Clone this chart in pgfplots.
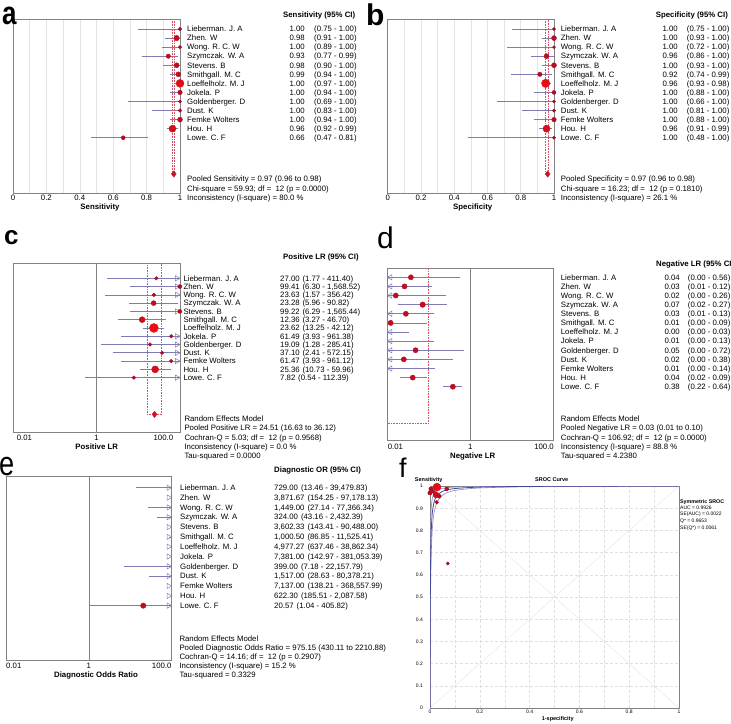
\documentclass[border=0pt]{standalone}
\usepackage{graphicx}
\usepackage{pgfplots}
\pgfplotsset{compat=1.18}
\usepackage{pgfplotstable}
\usepackage{fontspec}
\setmainfont{Liberation Sans}
\definecolor{ciline}{RGB}{125,125,180}
\definecolor{dotred}{RGB}{200,20,40}
\definecolor{pool}{RGB}{215,80,100}
\definecolor{frame}{RGB}{130,130,130}
\definecolor{sroc}{RGB}{70,70,150}
\definecolor{srocci}{RGB}{140,140,195}
\tikzset{
 t/.style={anchor=west,inner sep=0pt,text height=5.6pt,text depth=0pt,font=\fontsize{7.8}{9}\selectfont},
 ts/.style={anchor=west,inner sep=0pt,text height=3.6pt,text depth=0pt,font=\fontsize{5}{6}\selectfont},
}
\newcommand{\TL}[3]{\node[t] at (#1pt,-#2pt) {#3};}
\newcommand{\TR}[3]{\node[t,anchor=east] at (#1pt,-#2pt) {#3};}
\newcommand{\TC}[3]{\node[t,anchor=center] at (#1pt,-#2pt) {#3};}
\newcommand{\TB}[3]{\node[t,font=\fontsize{7.8}{9}\selectfont\bfseries] at (#1pt,-#2pt) {#3};}
\newcommand{\TBC}[3]{\node[t,anchor=center,font=\fontsize{7.8}{9}\selectfont\bfseries] at (#1pt,-#2pt) {#3};}
\pgfplotsset{
 forest/.style={scale only axis, anchor=north west, y dir=reverse, clip=true,
   axis line style={draw=frame, line width=0.6pt}, ytick=\empty, xticklabels={}, major tick length=0pt},
 ci/.style={draw=ciline, line width=0.7pt, mark=none, unbounded coords=jump, forget plot},
 poolr/.style={draw=pool, densely dotted, line width=0.6pt, mark=none, forget plot},
 vline/.style={draw=frame, line width=0.6pt, mark=none, forget plot},
 pts/.style={scatter, only marks, mark=*, point meta=\thisrow{r}, point meta min=1.5, point meta max=4.5,
   colormap={reds}{rgb255=(165,10,40) rgb255=(235,15,20)},
   scatter/use mapped color={draw=mapped color, fill=mapped color},
   visualization depends on={\thisrow{r}\as\rr},
   scatter/@pre marker code/.append style={/tikz/mark size=\rr}},
 arrR/.style={only marks, mark=triangle, mark size=3, mark options={xshift=-3pt, rotate=-90, draw=ciline, fill=white, line width=0.5pt}},
 arrL/.style={only marks, mark=triangle, mark size=3, mark options={xshift=3pt, rotate=90, draw=ciline, fill=white, line width=0.5pt}},
 dia/.style={only marks, mark=diamond*, mark size=3.2, color=dotred},
}
% ---------------- data ----------------
\pgfplotstableread{
row est r
1 1.00 1.8
2 0.98 2.7
3 1.00 1.8
4 0.93 2.2
5 0.98 2.5
6 0.99 2.5
7 1.00 4.0
8 1.00 2.3
9 1.00 1.6
10 1.00 1.8
11 1.00 2.5
12 0.955 3.5
13 0.66 2.0
}\sensA
\pgfplotstableread{
row est r
1 1.00 1.7
2 1.00 2.5
3 1.00 1.5
4 0.955 2.5
5 1.00 2.5
6 0.915 2.2
7 0.95 4.2
8 1.00 2.0
9 1.00 1.6
10 1.00 1.7
11 1.00 2.3
12 0.955 3.6
13 1.00 1.6
}\specB
\pgfplotstableread{
row est r
1 27.00 1.8
2 99.41 2.0
3 23.63 1.8
4 23.28 2.5
5 99.22 2.0
6 12.36 3.0
7 23.62 4.5
8 61.49 1.8
9 19.09 1.8
10 37.10 1.8
11 61.47 1.8
12 25.36 3.5
13 7.82 1.8
}\plrC
\pgfplotstableread{
row est r
1 0.037 2.6
2 0.026 2.6
3 0.016 2.6
4 0.071 2.8
5 0.028 2.6
6 0.012 2.6
9 0.048 2.6
10 0.025 2.6
12 0.041 2.6
13 0.38 2.6
}\nlrD
\pgfplotstableread{
row est r
13 20.57 2.7
}\dorE
\pgfplotstableread{
x y r
0.028 0.995 4.0
0.004 0.987 2.2
0.000 0.969 2.2
0.013 0.975 1.8
0.024 0.960 3.0
0.037 0.954 2.0
0.067 0.987 2.0
0.027 0.927 1.9
0.071 0.651 1.6
}\srocP
\begin{document}
\begin{tikzpicture}
\useasboundingbox (0,0) rectangle (731pt,-723pt);

% ================= panel a =================
\begin{axis}[forest, at={(13pt,-19pt)}, width=167pt, height=174pt,
  xmin=0, xmax=1, ymin=-0.104, ymax=19.10,
  xtick={0.1,0.2,0.3,0.4,0.5,0.6,0.7,0.8,0.9}, xmajorgrids, major grid style={gray!22, line width=0.5pt}]
\addplot[ci] coordinates {(0.75,1)(1,1) (nan,nan) (0.91,2)(1,2) (nan,nan) (0.89,3)(1,3) (nan,nan) (0.77,4)(0.99,4) (nan,nan)
 (0.90,5)(1,5) (nan,nan) (0.94,6)(1,6) (nan,nan) (0.97,7)(1,7) (nan,nan) (0.94,8)(1,8) (nan,nan) (0.69,9)(1,9) (nan,nan)
 (0.83,10)(1,10) (nan,nan) (0.94,11)(1,11) (nan,nan) (0.92,12)(0.99,12) (nan,nan) (0.47,13)(0.81,13)};
\addplot[poolr] coordinates {(0.952,-0.104)(0.952,17)(0.968,17)(0.968,-0.104)};
\addplot[pts] table[x=est,y=row]{\sensA};
\addplot[dia] coordinates {(0.963,17)};
\end{axis}

% ================= panel b =================
\begin{axis}[forest, at={(387.7pt,-19pt)}, width=166.3pt, height=174pt,
  xmin=0, xmax=1, ymin=-0.104, ymax=19.10,
  xtick={0.1,0.2,0.3,0.4,0.5,0.6,0.7,0.8,0.9}, xmajorgrids, major grid style={gray!22, line width=0.5pt}]
\addplot[ci] coordinates {(0.75,1)(1,1) (nan,nan) (0.93,2)(1,2) (nan,nan) (0.72,3)(1,3) (nan,nan) (0.86,4)(1,4) (nan,nan)
 (0.93,5)(1,5) (nan,nan) (0.74,6)(0.99,6) (nan,nan) (0.93,7)(0.98,7) (nan,nan) (0.88,8)(1,8) (nan,nan) (0.66,9)(1,9) (nan,nan)
 (0.81,10)(1,10) (nan,nan) (0.88,11)(1,11) (nan,nan) (0.91,12)(0.99,12) (nan,nan) (0.48,13)(1,13)};
\addplot[poolr] coordinates {(0.948,-0.104)(0.948,17)(0.968,17)(0.968,-0.104)};
\addplot[pts] table[x=est,y=row]{\specB};
\addplot[dia] coordinates {(0.962,17)};
\end{axis}

% ================= panel c =================
\begin{axis}[forest, at={(13.3pt,-263.3pt)}, width=166.7pt, height=169.4pt,
  xmode=log, xmin=0.01, xmax=100, xtick=\empty, ymin=-0.81, ymax=19.65]
\addplot[vline] coordinates {(1,-0.81)(1,19.65)};
\addplot[ci] coordinates {(1.77,1)(411.40,1) (nan,nan) (6.30,2)(1568,2) (nan,nan) (1.57,3)(356.42,3) (nan,nan) (5.96,4)(90.82,4) (nan,nan)
 (6.29,5)(1565,5) (nan,nan) (3.27,6)(46.70,6) (nan,nan) (13.25,7)(42.12,7) (nan,nan) (3.93,8)(961.38,8) (nan,nan) (1.28,9)(285.41,9) (nan,nan)
 (2.41,10)(572.15,10) (nan,nan) (3.93,11)(961.12,11) (nan,nan) (10.73,12)(59.96,12) (nan,nan) (0.54,13)(112.39,13)};
\addplot[poolr] coordinates {(16.63,-0.81)(16.63,17.43)(36.12,17.43)(36.12,-0.81)};
\addplot[arrR] coordinates {(100,1)(100,2)(100,3)(100,5)(100,8)(100,9)(100,10)(100,11)(100,13)};
\addplot[pts] table[x=est,y=row]{\plrC};
\addplot[dia] coordinates {(24.51,17.43)};
\end{axis}

% ================= panel d =================
\begin{axis}[forest, at={(387.3pt,-268.3pt)}, width=166pt, height=172.4pt,
  xmode=log, xmin=0.01, xmax=100, xtick=\empty, ymin=0.013, ymax=18.92]
\addplot[vline] coordinates {(1,0.013)(1,18.92)};
\addplot[ci] coordinates {(0.001,1)(0.56,1) (nan,nan) (0.008,2)(0.12,2) (nan,nan) (0.001,3)(0.26,3) (nan,nan) (0.018,4)(0.27,4) (nan,nan)
 (0.008,5)(0.13,5) (nan,nan) (0.001,6)(0.09,6) (nan,nan) (0.001,7)(0.034,7) (nan,nan) (0.001,8)(0.13,8) (nan,nan) (0.001,9)(0.72,9) (nan,nan)
 (0.001,10)(0.38,10) (nan,nan) (0.001,11)(0.14,11) (nan,nan) (0.02,12)(0.09,12) (nan,nan) (0.22,13)(0.64,13)};
\addplot[poolr] coordinates {(0.0101,0.013)(0.0101,17)(0.097,17)(0.097,0.013)};
\addplot[arrL] coordinates {(0.01,1)(0.01,2)(0.01,3)(0.01,5)(0.01,6)(0.01,7)(0.01,8)(0.01,9)(0.01,10)(0.01,11)};
\addplot[pts] table[x=est,y=row]{\nlrD};
\end{axis}

% ================= panel e =================
\begin{axis}[forest, at={(6pt,-476.7pt)}, width=165.7pt, height=184pt,
  xmode=log, xmin=0.01, xmax=100, xtick=\empty, ymin=-0.119, ymax=18.60]
\addplot[vline] coordinates {(1,-0.119)(1,18.60)};
\addplot[ci] coordinates {(13.46,1)(39479.83,1) (nan,nan) (154.25,2)(97178.13,2) (nan,nan) (27.14,3)(77366.34,3) (nan,nan) (43.16,4)(2432.39,4) (nan,nan)
 (143.41,5)(90488,5) (nan,nan) (86.85,6)(11525.41,6) (nan,nan) (637.46,7)(38862.34,7) (nan,nan) (142.97,8)(381053.39,8) (nan,nan) (7.18,9)(22157.79,9) (nan,nan)
 (28.63,10)(80378.21,10) (nan,nan) (138.21,11)(368557.99,11) (nan,nan) (185.51,12)(2087.58,12) (nan,nan) (1.04,13)(405.82,13)};
\addplot[arrR] coordinates {(100,1)(100,2)(100,3)(100,4)(100,5)(100,6)(100,7)(100,8)(100,9)(100,10)(100,11)(100,12)(100,13)};
\addplot[pts] table[x=est,y=row]{\dorE};
\end{axis}

% ================= panel f =================
\begin{axis}[scale only axis, at={(430pt,-708pt)}, anchor=south west, width=249pt, height=222pt,
  xmin=0, xmax=1, ymin=0, ymax=1, clip=true,
  xtick={0,0.1,0.2,0.3,0.4,0.5,0.6,0.7,0.8,0.9,1}, ytick={0,0.1,0.2,0.3,0.4,0.5,0.6,0.7,0.8,0.9,1},
  xticklabels={}, yticklabels={}, major tick length=0pt,
  grid=major, grid style={densely dashed, gray!25, line width=0.4pt},
  axis line style={draw=frame, line width=0.6pt}]
\addplot[gray!18, line width=0.5pt, forget plot] coordinates {(0,0)(1,1)};
\addplot[gray!18, line width=0.5pt, forget plot] coordinates {(1,0)(0,1)};
\addplot[srocci, line width=0.6pt, mark=none, smooth] coordinates {(0,0)(0.0001,0.152)(0.0002,0.2638)(0.0005,0.4726)(0.001,0.6419)(0.002,0.7821)(0.003,0.8435)(0.005,0.9000)(0.0075,0.9312)(0.01,0.9476)(0.015,0.9646)(0.02,0.9734)(0.03,0.9823)(0.05,0.9895)(0.075,0.9932)(0.1,0.9950)(0.15,0.9968)(0.2,0.9978)(0.3,0.9987)(0.4,0.9992)(0.5,0.9994)(0.6,0.9996)(0.8,0.9999)(1,1)};
\addplot[srocci, line width=0.6pt, mark=none, smooth] coordinates {(0,0)(0.0001,0.0422)(0.0002,0.0811)(0.0005,0.1807)(0.001,0.3063)(0.002,0.4692)(0.003,0.5703)(0.005,0.6891)(0.0075,0.7692)(0.01,0.8167)(0.015,0.8704)(0.02,0.9000)(0.03,0.9317)(0.05,0.9587)(0.075,0.9728)(0.1,0.9800)(0.15,0.9873)(0.2,0.9910)(0.3,0.9947)(0.4,0.9966)(0.5,0.9977)(0.6,0.9985)(0.8,0.9994)(1,1)};
\addplot[sroc, line width=0.8pt, mark=none, smooth] coordinates {(0,0)(0.0001,0.0718)(0.0002,0.134)(0.0005,0.2791)(0.001,0.4366)(0.002,0.6080)(0.003,0.6996)(0.005,0.7955)(0.0075,0.8540)(0.01,0.8866)(0.015,0.9218)(0.02,0.9405)(0.03,0.9599)(0.05,0.9760)(0.075,0.9843)(0.1,0.9885)(0.15,0.9927)(0.2,0.9949)(0.3,0.9970)(0.4,0.9981)(0.5,0.9987)(0.6,0.9991)(0.8,0.9997)(1,1)};
\addplot[pts] table[x=x,y=y]{\srocP};
\end{axis}

% ================= texts =================
% panel letters
\node[anchor=base west, inner sep=0pt, font=\fontsize{26}{26}\selectfont\bfseries] at (2pt,-24pt) {\scalebox{1}[1.25]{a}};
\node[anchor=base west, inner sep=0pt, font=\fontsize{30}{30}\selectfont\bfseries] at (366pt,-25pt) {b};
\node[anchor=base west, inner sep=0pt, font=\fontsize{26}{26}\selectfont\bfseries] at (4pt,-244pt) {c};
\node[anchor=base west, inner sep=0pt, font=\fontsize{30}{30}\selectfont] at (377pt,-248pt) {d};
\node[anchor=base west, inner sep=0pt, font=\fontsize{34}{34}\selectfont] at (-1pt,-475pt) {\scalebox{0.8}[1]{e}};
\node[anchor=base west, inner sep=0pt, font=\fontsize{27}{27}\selectfont] at (399pt,-477pt) {f};

% ---- a
\TB{283}{15}{Sensitivity (95\% CI)}
\foreach \n/\v/\ci [count=\i from 0] in {Lieberman. J. A/1.00/{(0.75 - 1.00)},Zhen. W/0.98/{(0.91 - 1.00)},Wong. R. C. W/1.00/{(0.89 - 1.00)},Szymczak. W. A/0.93/{(0.77 - 0.99)},Stevens. B/0.98/{(0.90 - 1.00)},Smithgall. M. C/0.99/{(0.94 - 1.00)},Loeffelholz. M. J/1.00/{(0.97 - 1.00)},Jokela. P/1.00/{(0.94 - 1.00)},Goldenberger. D/1.00/{(0.69 - 1.00)},Dust. K/1.00/{(0.83 - 1.00)},Femke Wolters/1.00/{(0.94 - 1.00)},Hou. H/0.96/{(0.92 - 0.99)},Lowe. C. F/0.66/{(0.47 - 0.81)}}{
 \pgfmathsetmacro{\yy}{29+9.06*\i}
 \TL{187}{\yy}{\n} \TR{305}{\yy}{\v} \TL{314}{\yy}{\ci}
}
\TL{187}{179}{Pooled Sensitivity = 0.97 (0.96 to 0.98)}
\TL{187}{188.3}{Chi-square = 59.93; df = \ 12 (p = 0.0000)}
\TL{187}{197.7}{Inconsistency (I-square) = 80.0 \%}
\foreach \v [count=\k from 0] in {0,0.2,0.4,0.6,0.8,1}{\pgfmathsetmacro{\xx}{13+33.4*\k}\TC{\xx}{197.7}{\v}}
\TBC{100}{206.7}{Sensitivity}

% ---- b
\TB{655.7}{15}{Specificity (95\% CI)}
\foreach \n/\v/\ci [count=\i from 0] in {Lieberman. J. A/1.00/{(0.75 - 1.00)},Zhen. W/1.00/{(0.93 - 1.00)},Wong. R. C. W/1.00/{(0.72 - 1.00)},Szymczak. W. A/0.96/{(0.86 - 1.00)},Stevens. B/1.00/{(0.93 - 1.00)},Smithgall. M. C/0.92/{(0.74 - 0.99)},Loeffelholz. M. J/0.96/{(0.93 - 0.98)},Jokela. P/1.00/{(0.88 - 1.00)},Goldenberger. D/1.00/{(0.66 - 1.00)},Dust. K/1.00/{(0.81 - 1.00)},Femke Wolters/1.00/{(0.88 - 1.00)},Hou. H/0.96/{(0.91 - 0.99)},Lowe. C. F/1.00/{(0.48 - 1.00)}}{
 \pgfmathsetmacro{\yy}{29+9.06*\i}
 \TL{560.7}{\yy}{\n} \TR{678}{\yy}{\v} \TL{686.7}{\yy}{\ci}
}
\TL{560.7}{179}{Pooled Specificity = 0.97 (0.96 to 0.98)}
\TL{560.7}{188.3}{Chi-square = 16.23; df = \ 12 (p = 0.1810)}
\TL{560.7}{197.7}{Inconsistency (I-square) = 26.1 \%}
\foreach \v [count=\k from 0] in {0,0.2,0.4,0.6,0.8,1}{\pgfmathsetmacro{\xx}{387.7+33.26*\k}\TC{\xx}{197.7}{\v}}
\TBC{472.7}{206.7}{Specificity}

% ---- c
\begin{scope}
\clip (0pt,-240pt) rectangle (364pt,-470pt);
\TB{283}{256.7}{Positive LR (95\% CI)}
\foreach \n/\v/\ci [count=\i from 0] in {Lieberman. J. A/27.00/{(1.77 - 411.40)},Zhen. W/99.41/{(6.30 - 1,568.52)},Wong. R. C. W/23.63/{(1.57 - 356.42)},Szymczak. W. A/23.28/{(5.96 - 90.82)},Stevens. B/99.22/{(6.29 - 1,565.44)},Smithgall. M. C/12.36/{(3.27 - 46.70)},Loeffelholz. M. J/23.62/{(13.25 - 42.12)},Jokela. P/61.49/{(3.93 - 961.38)},Goldenberger. D/19.09/{(1.28 - 285.41)},Dust. K/37.10/{(2.41 - 572.15)},Femke Wolters/61.47/{(3.93 - 961.12)},Hou. H/25.36/{(10.73 - 59.96)},Lowe. C. F/7.82/{(0.54 - 112.39)}}{
 \pgfmathsetmacro{\yy}{278.3+8.28*\i}
 \TL{183.3}{\yy}{\n} \TL{280}{\yy}{\v\hspace{2.8pt}\ci}
}
\end{scope}
\TL{184.3}{419}{Random Effects Model}
\TL{184.3}{428}{Pooled Positive LR = 24.51 (16.63 to 36.12)}
\TL{184.3}{437.3}{Cochran-Q = 5.03; df = \ 12 (p = 0.9568)}
\TL{184.3}{446.7}{Inconsistency (I-square) = 0.0 \%}
\TL{184.3}{455.7}{Tau-squared = 0.0000}
\TL{16.7}{437.3}{0.01}
\TC{96.6}{437.3}{1}
\TR{173.3}{437.3}{100.0}
\TBC{96.7}{446.7}{Positive LR}

% ---- d
\TB{656}{264}{Negative LR (95\% CI)}
\foreach \n/\v/\ci [count=\i from 0] in {Lieberman. J. A/0.04/{(0.00 - 0.56)},Zhen. W/0.03/{(0.01 - 0.12)},Wong. R. C. W/0.02/{(0.00 - 0.26)},Szymczak. W. A/0.07/{(0.02 - 0.27)},Stevens. B/0.03/{(0.01 - 0.13)},Smithgall. M. C/0.01/{(0.00 - 0.09)},Loeffelholz. M. J/0.00/{(0.00 - 0.03)},Jokela. P/0.01/{(0.00 - 0.13)},Goldenberger. D/0.05/{(0.00 - 0.72)},Dust. K/0.02/{(0.00 - 0.38)},Femke Wolters/0.01/{(0.00 - 0.14)},Hou. H/0.04/{(0.02 - 0.09)},Lowe. C. F/0.38/{(0.22 - 0.64)}}{
 \pgfmathsetmacro{\yy}{277.3+9.12*\i}
 \TL{560.7}{\yy}{\n} \TL{664.3}{\yy}{\v} \TL{687.7}{\yy}{\ci}
}
\TL{560.7}{419}{Random Effects Model}
\TL{560.7}{428}{Pooled Negative LR = 0.03 (0.01 to 0.10)}
\TL{560.7}{437.3}{Cochran-Q = 106.92; df = \ 12 (p = 0.0000)}
\TL{560.7}{446.7}{Inconsistency (I-square) = 88.8 \%}
\TL{560.7}{455.3}{Tau-squared = 4.2380}
\TL{387.7}{446.7}{0.01}
\TC{470.3}{446.7}{1}
\TR{554}{446.7}{100.0}
\TBC{472.7}{455.7}{Negative LR}

% ---- e
\TB{274}{470}{Diagnostic OR (95\% CI)}
\foreach \n/\v/\ci [count=\i from 0] in {Lieberman. J. A/729.00/{(13.46 - 39,479.83)},Zhen. W/{3,871.67}/{(154.25 - 97,178.13)},Wong. R. C. W/{1,449.00}/{(27.14 - 77,366.34)},Szymczak. W. A/324.00/{(43.16 - 2,432.39)},Stevens. B/{3,602.33}/{(143.41 - 90,488.00)},Smithgall. M. C/{1,000.50}/{(86.85 - 11,525.41)},Loeffelholz. M. J/{4,977.27}/{(637.46 - 38,862.34)},Jokela. P/{7,381.00}/{(142.97 - 381,053.39)},Goldenberger. D/399.00/{(7.18 - 22,157.79)},Dust. K/{1,517.00}/{(28.63 - 80,378.21)},Femke Wolters/{7,137.00}/{(138.21 - 368,557.99)},Hou. H/622.30/{(185.51 - 2,087.58)},Lowe. C. F/20.57/{(1.04 - 405.82)}}{
 \pgfmathsetmacro{\yy}{487.7+9.83*\i}
 \TL{180}{\yy}{\n} \TL{274}{\yy}{\v\hspace{3pt}\ci}
}
\TL{179.3}{638.3}{Random Effects Model}
\TL{179.3}{647.3}{Pooled Diagnostic Odds Ratio = 975.15 (430.11 to 2210.88)}
\TL{179.3}{656.3}{Cochran-Q = 14.16; df = \ 12 (p = 0.2907)}
\TL{179.3}{665.7}{Inconsistency (I-square) = 15.2 \%}
\TL{179.3}{674.7}{Tau-squared = 0.3329}
\TL{6}{666}{0.01}
\TC{88.8}{666}{1}
\TR{171.7}{666}{100.0}
\TBC{96}{675}{Diagnostic Odds Ratio}

% ---- f
\node[ts,anchor=center,font=\fontsize{5.5}{6}\selectfont\bfseries] at (428.7pt,-480pt) {Sensitivity};
\node[ts,anchor=center,font=\fontsize{5.5}{6}\selectfont\bfseries] at (551.7pt,-480pt) {SROC Curve};
\node[ts,anchor=center,font=\fontsize{5.5}{6}\selectfont\bfseries] at (557.7pt,-718.3pt) {1-specificity};
\foreach \v [count=\k from 0] in {0,0.2,0.4,0.6,0.8,1}{\pgfmathsetmacro{\xx}{430+49.8*\k}\node[ts,anchor=center] at (\xx pt,-712pt) {\v};}
\foreach \v [count=\k from 0] in {0,0.1,0.2,0.3,0.4,0.5,0.6,0.7,0.8,0.9,1}{\pgfmathsetmacro{\yy}{708-22.2*\k}\node[ts,anchor=east] at (423pt,-\yy pt) {\v};}
\node[ts,font=\fontsize{5.3}{6}\selectfont\bfseries] at (680pt,-501.5pt) {Symmetric SROC};
\node[ts] at (680pt,-507.5pt) {AUC = 0.9926};
\node[ts] at (680pt,-514pt) {SE(AUC) = 0.0022};
\node[ts] at (680pt,-520.7pt) {Q* = 0.9653};
\node[ts] at (680pt,-527.3pt) {SE(Q*) = 0.0061};
\end{tikzpicture}
\end{document}
